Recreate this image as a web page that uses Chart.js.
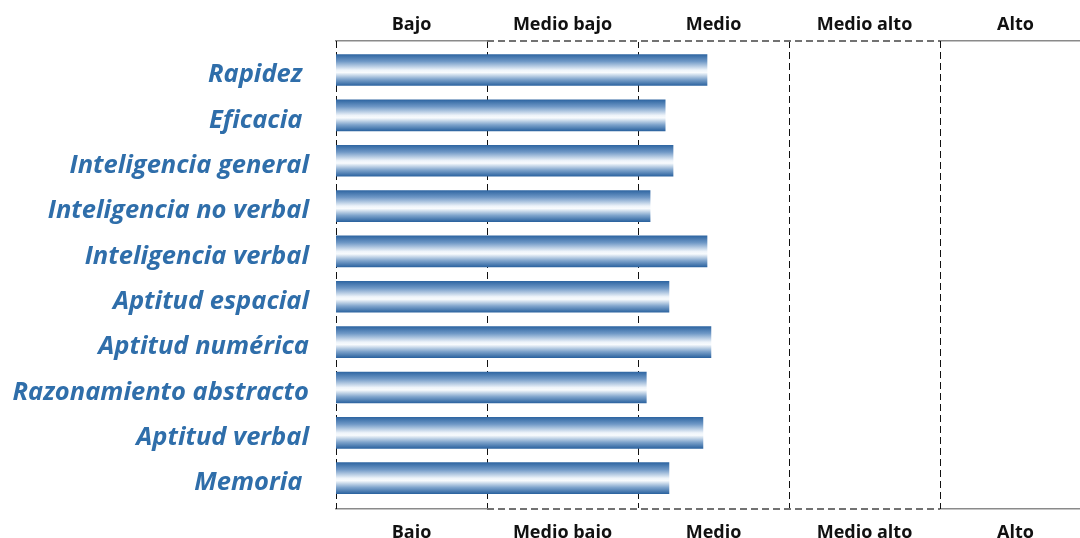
<!DOCTYPE html>
<html>
<head>
<meta charset="utf-8">
<script src="https://cdn.jsdelivr.net/npm/chart.js@4.4.1/dist/chart.umd.min.js"></script>
<style>
  html, body { margin: 0; padding: 0; background: #fff; overflow: hidden; width: 1080px; height: 538px; }
  canvas { display: block; }
</style>
</head>
<body>
<canvas id="c" width="1096" height="538" style="width:1096px;height:538px"></canvas>
<script>
const categories = ['Rapidez ', 'Eficacia ', 'Inteligencia general', 'Inteligencia no verbal', 'Inteligencia verbal', 'Aptitud espacial', 'Aptitud numérica', 'Razonamiento abstracto', 'Aptitud verbal', 'Memoria '];
const scores = [2.457, 2.18, 2.232, 2.08, 2.457, 2.205, 2.483, 2.055, 2.43, 2.205];
const bandLabels = ['Bajo', 'Medio bajo', 'Medio', 'Medio alto', 'Alto'];
const bandCenters = [0.5, 1.5, 2.5, 3.5, 4.5];
const bandEdges = [0, 1, 2, 3, 4, 5];

const BAR_T = 31;

function barGradient(context) {
  const chart = context.chart;
  const ys = chart.scales.y;
  if (!ys || context.dataIndex === undefined || ys.height === undefined) return '#3a6ea8';
  const yc = ys.getPixelForValue(context.dataIndex);
  if (!isFinite(yc)) return '#3a6ea8';
  const g = chart.ctx.createLinearGradient(0, yc - BAR_T / 2, 0, yc + BAR_T / 2);
  g.addColorStop(0, '#2f66a2');
  g.addColorStop(0.22, '#6f98c6');
  g.addColorStop(0.5, '#eef4fa');
  g.addColorStop(0.58, '#f8fbfd');
  g.addColorStop(0.8, '#7fa4cc');
  g.addColorStop(1, '#2d64a0');
  return g;
}

const gridPlugin = {
  id: 'bandGrid',
  beforeDatasetsDraw(chart) {
    const { ctx, chartArea } = chart;
    const xs = chart.scales.x;
    ctx.save();
    ctx.strokeStyle = '#111';
    ctx.lineWidth = 1;
    ctx.setLineDash([7, 4]);
    bandEdges.forEach(v => {
      const px = Math.round(xs.getPixelForValue(v)) + 0.5;
      ctx.beginPath();
      ctx.moveTo(px, chartArea.top);
      ctx.lineTo(px, chartArea.bottom);
      ctx.stroke();
    });
    ctx.restore();
  },
  afterDraw(chart) {
    const { ctx, chartArea } = chart;
    const xs = chart.scales.x;
    const x1 = xs.getPixelForValue(1), x2 = xs.getPixelForValue(4);
    ctx.save();
    [chartArea.top, chartArea.bottom].forEach(y => {
      ctx.strokeStyle = '#fff';
      ctx.lineWidth = 2;
      ctx.setLineDash([]);
      ctx.beginPath(); ctx.moveTo(x1, y); ctx.lineTo(x2, y); ctx.stroke();
      ctx.strokeStyle = '#444';
      ctx.lineWidth = 1.5;
      ctx.setLineDash([7, 4]);
      ctx.beginPath(); ctx.moveTo(x1, y); ctx.lineTo(x2, y); ctx.stroke();
    });
    ctx.restore();
  }
};

const bandAxis = (pos, h, pad) => ({
  type: 'linear',
  position: pos,
  min: 0,
  max: 5,
  offset: false,
  afterBuildTicks: s => { s.ticks = bandCenters.map(v => ({ value: v })); },
  afterFit: s => { s.height = h; s.paddingLeft = 0; s.paddingRight = 0; },
  grid: { display: false, drawTicks: false },
  border: { display: true, color: '#8a8a8a', width: 1.5 },
  ticks: {
    padding: pad,
    autoSkip: false,
    maxRotation: 0,
    color: '#111',
    font: { family: 'Open Sans', weight: 'bold', size: 18 },
    callback: (v, i) => bandLabels[i]
  }
});

new Chart(document.getElementById('c'), {
  type: 'bar',
  data: {
    datasets: [{
      data: scores.map((v, i) => ({ x: v, y: i })),
      backgroundColor: barGradient,
      borderWidth: 0,
      barThickness: BAR_T,
      xAxisID: 'x',
      yAxisID: 'y'
    }]
  },
  plugins: [gridPlugin],
  options: {
    indexAxis: 'y',
    responsive: false,
    animation: false,
    layout: { padding: { left: 0, right: 5, top: 0, bottom: 0 } },
    plugins: { legend: { display: false }, tooltip: { enabled: false } },
    scales: {
      x: bandAxis('bottom', 29, 13),
      xTop: bandAxis('top', 41, 5),
      y: {
        type: 'linear',
        position: 'left',
        reverse: true,
        offset: false,
        min: -0.64,
        max: 9.68,
        afterBuildTicks: s => { s.ticks = categories.map((c, i) => ({ value: i })); },
        afterFit: s => { s.width = 336; s.paddingTop = 0; s.paddingBottom = 0; },
        grid: { display: false, drawTicks: false, offset: false },
        border: { display: false },
        ticks: {
          padding: 27,
          labelOffset: 5,
          autoSkip: false,
          color: '#2f6eaa',
          font: { family: 'Open Sans', style: 'italic', weight: 'bold', size: 25.5 },
          callback: (v, i) => categories[i]
        }
      }
    }
  }
});
</script>
</body>
</html>
